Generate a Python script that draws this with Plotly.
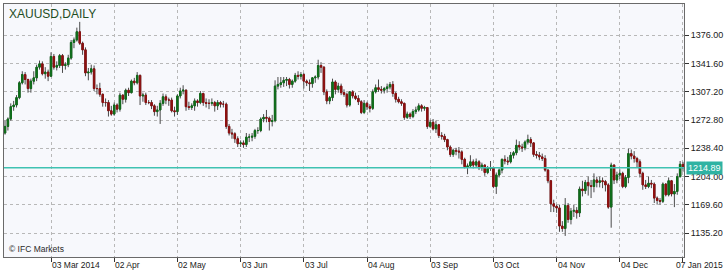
import pandas as pd
import plotly.graph_objects as go

# ---------------- data ----------------
all_days = pd.bdate_range("2014-02-06", "2015-01-07")
dates = [d for d in all_days if d.strftime("%m-%d") not in ("12-25", "01-01")]

open_ = [
    # Feb
    1254,1257,1265,1274,1289,1291,1300,1318,1328,1322,1311,1320,1324,1337,1341,1329,1331,
    # Mar
    1326,1350,1337,1339,1351,1339,1340,1348,1367,1370,1380,1366,1358,1330,1331,1335,1311,1311,1304,1294,1294,
    # Apr
    1284,1280,1291,1286,1303,1298,1309,1306,1320,1318,1327,1302,1303,1294,1294,1290,1283,1285,1293,1301,1297,1297,
    # May
    1284,1283,1302,1308,1309,1289,1288,1290,1296,1294,1305,1294,1293,1293,1294,1290,1294,1292,1292,1265,1257,1256,
    # Jun
    1250,1244,1245,1243,1252,1252,1253,1260,1260,1274,1276,1275,1271,1272,1314,1316,1318,1321,1322,1316,1320,
    # Jul
    1327,1326,1328,1320,1318,1317,1324,1325,1339,1337,1307,1296,1300,1319,1310,1314,1306,1304,1291,1307,1302,1299,1295,
    # Aug
    1282,1293,1289,1287,1307,1312,1310,1309,1311,1313,1316,1305,1298,1295,1293,1276,1280,1277,1283,1285,1290,
    # Sep
    1287,1288,1265,1270,1262,1267,1254,1253,1249,1240,1231,1236,1235,1234,1225,1216,1217,1222,1218,1222,1215,1218,
    # Oct
    1209,1214,1215,1192,1206,1212,1225,1223,1222,1230,1233,1242,1240,1239,1246,1249,1245,1231,1230,1228,1226,1212,1199,
    # Nov
    1171,1168,1166,1144,1141,1169,1152,1162,1163,1160,1189,1187,1197,1193,1192,1200,1197,1199,1198,1194,
    # Dec
    1167,1218,1200,1206,1208,1192,1203,1232,1229,1226,1222,1208,1194,1192,1196,1195,1178,1175,1174,1195,1182,1199,
    # Jan
    1183,1186,1204,1219,
]
high = [
    1260,1272,1276,1293,1296,1303,1320,1332,1331,1323,1323,1332,1340,1345,1344,1337,1334,
    1355,1353,1344,1353,1353,1343,1352,1370,1373,1385,1392,1368,1361,1336,1340,1339,1316,1318,1305,1299,1297,
    1290,1294,1293,1306,1304,1311,1312,1322,1324,1331,1328,1306,1306,1297,1297,1292,1290,1297,1305,1304,1300,1300,
    1289,1304,1312,1315,1310,1295,1293,1299,1298,1308,1306,1299,1298,1299,1296,1297,1296,1296,1294,1268,1262,1258,
    1253,1248,1248,1257,1256,1257,1262,1264,1276,1280,1285,1277,1279,1321,1325,1325,1325,1325,1324,1322,1330,
    1332,1331,1330,1322,1322,1325,1327,1346,1343,1338,1310,1302,1323,1321,1318,1317,1310,1306,1308,1309,1306,1303,1297,
    1297,1295,1292,1310,1316,1322,1314,1313,1317,1319,1320,1307,1301,1298,1294,1283,1282,1286,1289,1293,1292,
    1290,1288,1273,1274,1272,1268,1258,1256,1250,1242,1238,1239,1240,1236,1227,1220,1230,1225,1226,1224,1221,1219,
    1217,1223,1216,1209,1214,1226,1230,1228,1234,1235,1249,1247,1244,1248,1255,1252,1246,1235,1234,1232,1230,1213,1200,
    1176,1170,1170,1150,1178,1172,1166,1170,1167,1192,1199,1200,1204,1200,1208,1204,1204,1203,1200,1196,
    1221,1219,1210,1213,1210,1206,1238,1237,1235,1228,1225,1210,1200,1204,1200,1197,1180,1178,1197,1196,1203,1200,
    1195,1208,1223,1222,
]
low = [
    1250,1255,1260,1272,1284,1288,1298,1316,1316,1306,1306,1316,1320,1334,1327,1323,1320,
    1325,1334,1333,1336,1330,1334,1337,1346,1360,1368,1364,1352,1326,1321,1328,1308,1304,1301,1289,1289,1277,
    1278,1278,1282,1283,1292,1294,1302,1305,1315,1316,1291,1295,1291,1292,1286,1278,1277,1268,1290,1292,1290,1282,
    1277,1279,1299,1304,1284,1285,1285,1284,1289,1292,1290,1288,1286,1290,1283,1285,1288,1288,1262,1254,1250,1245,
    1240,1240,1239,1240,1246,1247,1250,1256,1258,1270,1270,1260,1265,1270,1310,1312,1313,1314,1311,1312,1318,
    1322,1322,1311,1314,1308,1312,1318,1322,1330,1303,1292,1292,1296,1304,1306,1303,1301,1288,1289,1299,1297,1291,1280,
    1280,1285,1282,1285,1305,1307,1305,1305,1306,1310,1301,1294,1293,1290,1273,1274,1274,1275,1280,1283,1283,
    1284,1262,1263,1260,1257,1251,1249,1246,1236,1228,1228,1230,1226,1219,1214,1207,1215,1214,1215,1212,1211,1205,
    1207,1211,1190,1183,1203,1208,1219,1218,1220,1226,1230,1236,1234,1236,1243,1240,1228,1226,1224,1223,1210,1196,1161,
    1161,1160,1137,1137,1132,1148,1146,1155,1153,1155,1180,1183,1181,1178,1185,1191,1191,1190,1186,1165,
    1142,1195,1196,1201,1190,1190,1196,1225,1221,1215,1203,1188,1189,1190,1190,1172,1170,1170,1172,1180,1180,1180,
    1167,1182,1203,1210,
]
close = [
    1257,1265,1274,1289,1291,1300,1318,1328,1322,1311,1320,1324,1337,1341,1329,1331,1326,
    1350,1337,1339,1351,1339,1340,1348,1367,1370,1380,1366,1358,1330,1331,1335,1311,1311,1304,1294,1294,1284,
    1280,1291,1286,1303,1298,1309,1306,1320,1318,1327,1302,1303,1294,1294,1290,1283,1285,1293,1301,1297,1297,1284,
    1283,1302,1308,1309,1289,1288,1290,1296,1294,1305,1294,1293,1293,1294,1290,1294,1292,1292,1265,1257,1256,1250,
    1244,1245,1243,1252,1252,1253,1260,1260,1274,1276,1275,1271,1272,1314,1316,1318,1321,1322,1316,1320,1327,
    1326,1328,1320,1318,1317,1324,1325,1339,1337,1307,1296,1300,1319,1310,1314,1306,1304,1291,1307,1302,1299,1295,1282,
    1293,1289,1287,1307,1312,1310,1309,1311,1313,1316,1305,1298,1295,1293,1276,1280,1277,1283,1285,1290,1287,
    1288,1265,1270,1262,1267,1254,1253,1249,1240,1231,1236,1235,1234,1225,1216,1217,1222,1218,1222,1215,1218,1209,
    1214,1215,1192,1206,1212,1225,1223,1222,1230,1233,1242,1240,1239,1246,1249,1245,1231,1230,1228,1226,1212,1199,1171,
    1168,1166,1144,1141,1169,1152,1162,1163,1160,1189,1187,1197,1193,1192,1200,1197,1199,1198,1194,1167,
    1218,1200,1206,1208,1192,1203,1232,1229,1226,1222,1208,1194,1192,1196,1195,1178,1175,1174,1195,1182,1199,1183,
    1186,1204,1219,1214.89,
]

tick_dates = ["2014-03-03", "2014-04-02", "2014-05-02", "2014-06-03", "2014-07-03", "2014-08-04",
              "2014-09-03", "2014-10-03", "2014-11-04", "2014-12-04", "2015-01-07"]
tick_text = ["03 Mar 2014", "02 Apr", "02 May", "03 Jun", "03 Jul", "04 Aug",
             "03 Sep", "03 Oct", "04 Nov", "04 Dec", "07 Jan 2015"]
price_ticks = [1135.20, 1169.60, 1204.00, 1238.40, 1272.80, 1307.20, 1341.60, 1376.00]

# ---------------- figure ----------------
n = min(len(dates), len(open_), len(high), len(low), len(close))
xs = list(range(n))
date_idx = {d.strftime("%Y-%m-%d"): i for i, d in enumerate(dates)}
tick_idx = [date_idx[d] for d in tick_dates]

body_hi = [max(o, c) for o, c in zip(open_[:n], close[:n])]
body_lo = [min(o, c) for o, c in zip(open_[:n], close[:n])]

WICK = "#4a4a4a"
UP = "#0f6e1a"
DOWN = "#8e1010"
TEAL = "#3fc2b2"
FONT = "Liberation Sans, Arial, sans-serif"

fig = go.Figure()
fig.add_trace(go.Candlestick(
    x=xs, open=open_[:n], high=high[:n], low=low[:n], close=close[:n],
    increasing=dict(line=dict(color=WICK, width=1), fillcolor=WICK),
    decreasing=dict(line=dict(color=WICK, width=1), fillcolor=WICK),
    whiskerwidth=0, showlegend=False, hoverinfo="skip"))
fig.add_trace(go.Candlestick(
    x=xs, open=open_[:n], high=body_hi, low=body_lo, close=close[:n],
    increasing=dict(line=dict(color=UP, width=1), fillcolor=UP),
    decreasing=dict(line=dict(color=DOWN, width=1), fillcolor=DOWN),
    whiskerwidth=0, showlegend=False, hoverinfo="skip"))

last = close[n - 1]
fig.add_hline(y=last, line=dict(color=TEAL, width=1.5))

fig.update_layout(
    width=725, height=272,
    margin=dict(l=4, r=41, t=4, b=15, pad=0),
    paper_bgcolor="white", plot_bgcolor="#f7f8fc",
    font=dict(family=FONT, size=9, color="#1a1a1a"),
    xaxis=dict(
        range=[0.64, 237.35], rangeslider=dict(visible=False),
        tickmode="array", tickvals=tick_idx, showticklabels=False,
        ticks="outside", ticklen=4, tickcolor="#333",
        showgrid=True, gridcolor="#b8b8b8", griddash="dot", gridwidth=1,
        showline=True, linecolor="#6a6a6a", linewidth=1, mirror=True,
        zeroline=False, automargin=False, fixedrange=True),
    yaxis=dict(
        side="right", range=[1106.4, 1413.7],
        tickmode="array", tickvals=price_ticks,
        ticktext=[f"{v:.2f}" for v in price_ticks],
        ticks="outside", ticklen=4, tickcolor="#333",
        tickfont=dict(family=FONT, size=9, color="#1a1a1a"),
        showgrid=True, gridcolor="#b8b8b8", griddash="dot", gridwidth=1,
        showline=True, linecolor="#6a6a6a", linewidth=1, mirror=True,
        zeroline=False, automargin=False, fixedrange=True),
)

for k, (xi, txt) in enumerate(zip(tick_idx, tick_text)):
    if k == len(tick_idx) - 1:
        fig.add_annotation(x=1, xref="paper", y=-0.032, yref="paper", text=txt,
                           showarrow=False, xanchor="right", yanchor="middle", xshift=41,
                           font=dict(family=FONT, size=8.5, color="#1a1a1a"))
    else:
        fig.add_annotation(x=xi, xref="x", y=-0.032, yref="paper", text=txt,
                           showarrow=False, xanchor="left", yanchor="middle", xshift=-1,
                           font=dict(family=FONT, size=8.5, color="#1a1a1a"))

fig.add_annotation(x=1, xref="paper", y=last, yref="y", text=f"{last:.2f}",
                   showarrow=False, xanchor="left", yanchor="middle", xshift=2,
                   bgcolor="#2fb3a3", borderpad=1,
                   font=dict(family=FONT, size=9, color="white"))

fig.add_annotation(x=0.004, xref="paper", y=0.995, yref="paper", text="XAUUSD,DAILY",
                   showarrow=False, xanchor="left", yanchor="top",
                   font=dict(family=FONT, size=12, color="#1f4d1f"))
fig.add_annotation(x=0.004, xref="paper", y=0.005, yref="paper", text="© IFC Markets",
                   showarrow=False, xanchor="left", yanchor="bottom",
                   font=dict(family=FONT, size=8.5, color="#2a2a2a"))

fig.write_html("out.html")
